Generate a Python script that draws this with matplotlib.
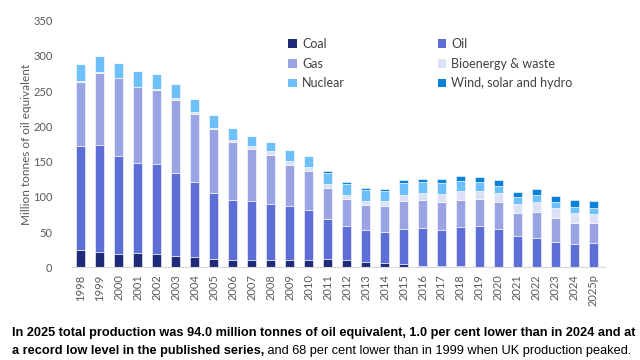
#!/usr/bin/env python3
# -*- coding: utf-8 -*-
"""UK primary energy production by fuel, 1998 to 2025p (stacked bars)."""

import numpy as np
import matplotlib
matplotlib.use("Agg")
import matplotlib.pyplot as plt
from matplotlib.patches import Patch

# ---------------------------------------------------------------------------
# Data (million tonnes of oil equivalent)
# ---------------------------------------------------------------------------
years = ["1998", "1999", "2000", "2001", "2002", "2003", "2004", "2005",
         "2006", "2007", "2008", "2009", "2010", "2011", "2012", "2013",
         "2014", "2015", "2016", "2017", "2018", "2019", "2020", "2021",
         "2022", "2023", "2024", "2025p"]

coal = [25.3, 22.2, 19.0, 19.9, 18.5, 16.6, 14.7, 12.3, 10.9, 9.9, 10.9, 10.9,
        10.9, 11.9, 9.9, 7.7, 6.7, 5.3, 2.8, 2.0, 1.5, 1.3, 1.0, 0.8,
        0.6, 0.5, 0.3, 0.2]
oil = [146.5, 151.8, 139.4, 128.3, 127.7, 117.7, 105.9, 93.6, 84.1, 84.2, 79.5,
       75.6, 69.9, 56.8, 49.3, 44.8, 43.9, 49.7, 52.5, 51.5, 55.8, 57.9,
       54.0, 44.1, 41.5, 36.0, 32.9, 33.8]
gas = [91.5, 101.5, 109.5, 107.0, 104.7, 103.5, 97.3, 89.7, 82.3, 74.3, 69.5,
       58.2, 55.3, 43.9, 37.8, 35.5, 36.0, 39.2, 39.7, 39.7, 38.9, 37.8,
       37.8, 32.2, 36.9, 33.5, 30.2, 28.4]
bioenergy = [1.0, 1.0, 1.0, 1.2, 1.4, 1.8, 2.3, 2.5, 2.8, 3.2, 4.7, 5.7, 5.8,
             6.2, 6.1, 6.7, 8.1, 8.9, 10.0, 10.8, 12.6, 11.8, 12.8, 13.2,
             13.7, 13.7, 13.7, 13.7]
nuclear = [23.5, 23.0, 21.0, 21.5, 21.7, 20.4, 18.2, 17.8, 17.0, 14.1, 12.8,
           15.9, 16.2, 15.6, 15.1, 15.2, 14.1, 16.2, 16.1, 15.7, 13.6, 11.8,
           10.3, 9.9, 10.0, 9.0, 9.0, 7.6]
renewables = [0.5, 0.5, 0.5, 0.5, 0.5, 0.6, 0.8, 0.9, 1.0, 1.0, 0.9, 0.6, 0.3,
              2.4, 3.0, 3.3, 2.8, 4.2, 4.3, 5.8, 7.6, 7.7, 8.4, 7.1, 8.9,
              9.0, 8.9, 10.3]

series = [
    ("Coal", coal, "#1f2a78"),
    ("Oil", oil, "#5d6fd6"),
    ("Gas", gas, "#9aa4e2"),
    ("Bioenergy & waste", bioenergy, "#dde1f7"),
    ("Nuclear", nuclear, "#6ec0f8"),
    ("Wind, solar and hydro", renewables, "#0b82d9"),
]

caption_bold_1 = ("In 2025 total production was 94.0 million tonnes of oil "
                  "equivalent, 1.0 per cent lower than in 2024 and at")
caption_bold_2 = "a record low level in the published series,"
caption_rest_2 = " and 68 per cent lower than in 1999 when UK production peaked."

# ---------------------------------------------------------------------------
# Plot
# ---------------------------------------------------------------------------
plt.rcParams["font.family"] = ["Lato", "DejaVu Sans"]
GREY = "#595959"

fig = plt.figure(figsize=(6.4, 3.6), dpi=100)
ax = fig.add_axes([0.1125, 0.257, 0.8325, 0.686])

x = np.arange(len(years))
bottom = np.zeros(len(years))
for name, values, color in series:
    ax.bar(x, values, width=0.48, bottom=bottom, color=color,
           edgecolor="white", linewidth=0.4, label=name)
    bottom += np.array(values)

ax.set_xlim(-0.46, len(years) - 0.4)
ax.set_ylim(0, 350)
ax.set_yticks(range(0, 351, 50))
ax.set_xticks(x)
ax.set_xticklabels(years, rotation=90)
ax.tick_params(axis="both", length=0, labelsize=8, colors=GREY)
ax.tick_params(axis="y", pad=14)
ax.tick_params(axis="x", pad=5)

for side in ["top", "right", "left"]:
    ax.spines[side].set_visible(False)
ax.spines["bottom"].set_color("#d9d9d9")

ax.set_ylabel("Million tonnes of oil equivalent", fontsize=8.5, color=GREY,
              labelpad=1)

# legend laid out row by row: Coal/Oil, Gas/Bio, Nuclear/Wind
handles = [Patch(facecolor=c, label=n) for n, _, c in series]
order = [0, 2, 4, 1, 3, 5]
ax.legend([handles[i] for i in order], [series[i][0] for i in order],
          ncol=2, frameon=False, loc="upper left",
          bbox_to_anchor=(0.385, 0.975), fontsize=9, labelcolor="#404040",
          handlelength=0.7, handleheight=0.7, handletextpad=0.4,
          labelspacing=0.62, columnspacing=7.4)

# caption, first line bold, second line mixed
cap_font = ["Liberation Sans", "DejaVu Sans"]
fig.text(0.018, 0.068, caption_bold_1, fontsize=9.2,
         fontweight="bold", family=cap_font, va="baseline")
t2 = fig.text(0.018, 0.018, caption_bold_2, fontsize=9.2,
              fontweight="bold", family=cap_font, va="baseline")
ax.annotate(caption_rest_2, xy=(1, 0), xycoords=t2, fontsize=9.2,
            family=cap_font, va="bottom", ha="left", annotation_clip=False)

fig.savefig("out.png", dpi=100)
